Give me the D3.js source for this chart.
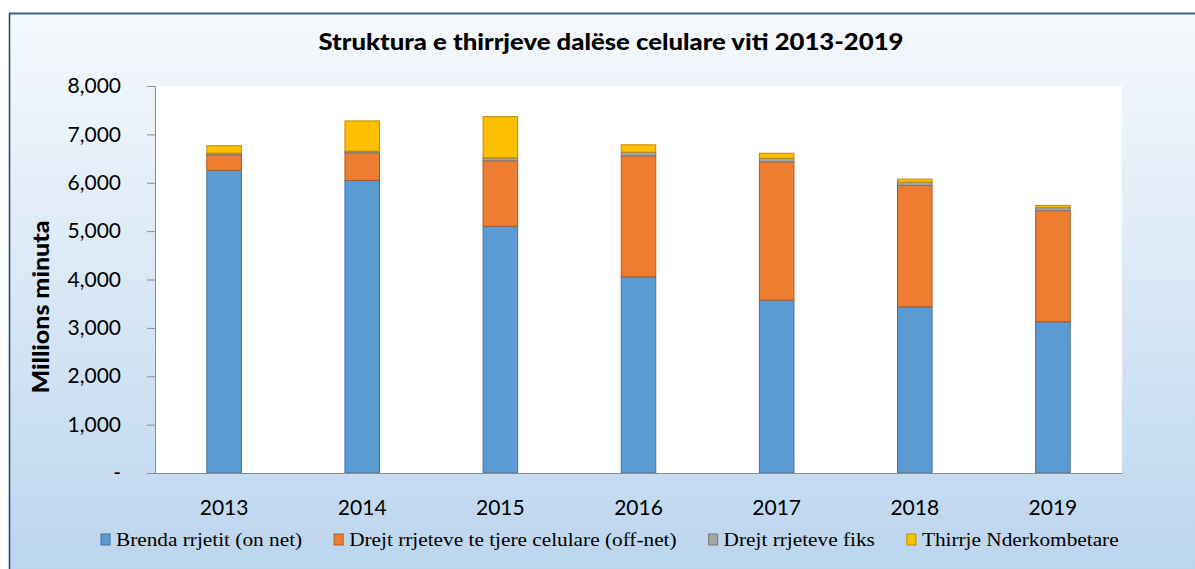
<!DOCTYPE html>
<html>
<head>
<meta charset="utf-8">
<script src="https://cdn.jsdelivr.net/npm/d3@7"></script>
<style>
  body { margin: 0; background: #fff; }
  text { fill: #000; }
</style>
</head>
<body>
<script>
// values in millions of minutes
var years = ["2013", "2014", "2015", "2016", "2017", "2018", "2019"];
var onNet = [6254, 6047, 5100, 4055, 3573, 3436, 3126];
var offNet = [323, 572, 1354, 2502, 2860, 2509, 2297];
var fixed = [35, 33, 61, 74, 74, 68, 62];
var intl = [153, 626, 852, 153, 103, 61, 47];
var seriesNames = ["Brenda rrjetit (on net)", "Drejt rrjeteve te tjere celulare (off-net)",
    "Drejt rrjeteve fiks", "Thirrje Nderkombetare"];
var fills = ["#5b9bd5", "#ed7d31", "#a5a5a5", "#ffc000"];
var strokes = ["#41719c", "#ae5a21", "#787878", "#bc8c00"];
var yTicks = [0, 1000, 2000, 3000, 4000, 5000, 6000, 7000, 8000];

var w = 1195, h = 569;
var svg = d3.select("body").append("svg").attr("width", w).attr("height", h);

// chart box background
var defs = svg.append("defs");
var grad = defs.append("linearGradient").attr("id", "bg")
    .attr("x1", 0).attr("y1", 0).attr("x2", 0).attr("y2", 1);
grad.append("stop").attr("offset", "0%").attr("stop-color", "#f6f9fd");
grad.append("stop").attr("offset", "100%").attr("stop-color", "#bad5ee");

svg.append("rect").attr("x", 9).attr("y", 13).attr("width", w).attr("height", h)
    .style("fill", "url(#bg)");
svg.append("line").attr("x1", 9).attr("x2", w).attr("y1", 13.5).attr("y2", 13.5)
    .style("stroke", "#3c5f92").style("stroke-width", 2);
svg.append("line").attr("x1", 9.5).attr("x2", 9.5).attr("y1", 13).attr("y2", h)
    .style("stroke", "#1f3c84").style("stroke-width", 1.5);

var m = {left: 155, right: 1122, top: 86, bottom: 473};

svg.append("rect").attr("x", m.left).attr("y", m.top)
    .attr("width", m.right - m.left).attr("height", m.bottom - m.top)
    .style("fill", "#fff");

var x = d3.scaleBand().domain(years).range([m.left, m.right]).paddingInner(0.75).paddingOuter(0.375);
var y = d3.scaleLinear().domain([0, 8000]).range([m.bottom, m.top]);

var rows = years.map(function (yr, i) {
    return {year: yr, s0: onNet[i], s1: offNet[i], s2: fixed[i], s3: intl[i]};
});
var stack = d3.stack().keys(["s0", "s1", "s2", "s3"]);
var layers = stack(rows);

svg.selectAll(".layer").data(layers).enter().append("g")
    .attr("class", "layer")
    .style("fill", (d, i) => fills[i])
    .style("stroke", (d, i) => strokes[i])
    .selectAll("rect").data(d => d).enter().append("rect")
    .attr("x", d => x(d.data.year))
    .attr("y", d => y(d[1]))
    .attr("width", x.bandwidth())
    .attr("height", d => y(d[0]) - y(d[1]))
    .style("stroke-width", 1);

// y axis
var yAxis = d3.axisLeft(y).tickValues(yTicks).tickSize(8).tickPadding(26)
    .tickFormat(d => d === 0 ? "-" : d3.format(",")(d));
var gy = svg.append("g").attr("transform", "translate(" + m.left + ",0)").call(yAxis);
gy.select(".domain").style("stroke", "#8c8c8c");
gy.selectAll(".tick line").style("stroke", "#8c8c8c");
gy.selectAll("text").style("font-family", "Lato, sans-serif").style("font-size", "21px");

// x axis baseline
var xAxis = d3.axisBottom(x).tickSize(0).tickPadding(27);
var gx = svg.append("g").attr("transform", "translate(0," + m.bottom + ")").call(xAxis);
gx.select(".domain").style("stroke", "#8c8c8c");
gx.selectAll("text").style("font-family", "Lato, sans-serif").style("font-size", "21px");

// titles
svg.append("text").attr("x", 611).attr("y", 50).attr("text-anchor", "middle")
    .attr("textLength", 585).attr("lengthAdjust", "spacingAndGlyphs")
    .style("font-family", "Lato, sans-serif").style("font-weight", "900").style("font-size", "23px")
    .text("Struktura e thirrjeve dalëse celulare viti 2013-2019");

svg.append("text").attr("transform", "translate(49,307) rotate(-90)")
    .attr("text-anchor", "middle")
    .attr("textLength", 173).attr("lengthAdjust", "spacingAndGlyphs")
    .style("font-family", "Lato, sans-serif").style("font-weight", "900").style("font-size", "23px")
    .text("Millions minuta");

// legend
var legend = svg.append("g").attr("transform", "translate(101,540)");
var lx = 0;
seriesNames.forEach(function (name, i) {
    var g = legend.append("g").attr("transform", "translate(" + lx + ",0)");
    g.append("rect").attr("x", 0).attr("y", -6).attr("width", 9).attr("height", 11)
        .style("fill", fills[i]).style("stroke", strokes[i]);
    var t = g.append("text").attr("x", 15).attr("y", 6)
        .style("font-family", "'Liberation Serif', 'Times New Roman', serif").style("font-size", "19px")
        .text(name);
    var len = t.node().getComputedTextLength() * 1.12;
    t.attr("textLength", len).attr("lengthAdjust", "spacingAndGlyphs");
    lx += 15 + len + 32;
});
</script>
</body>
</html>
